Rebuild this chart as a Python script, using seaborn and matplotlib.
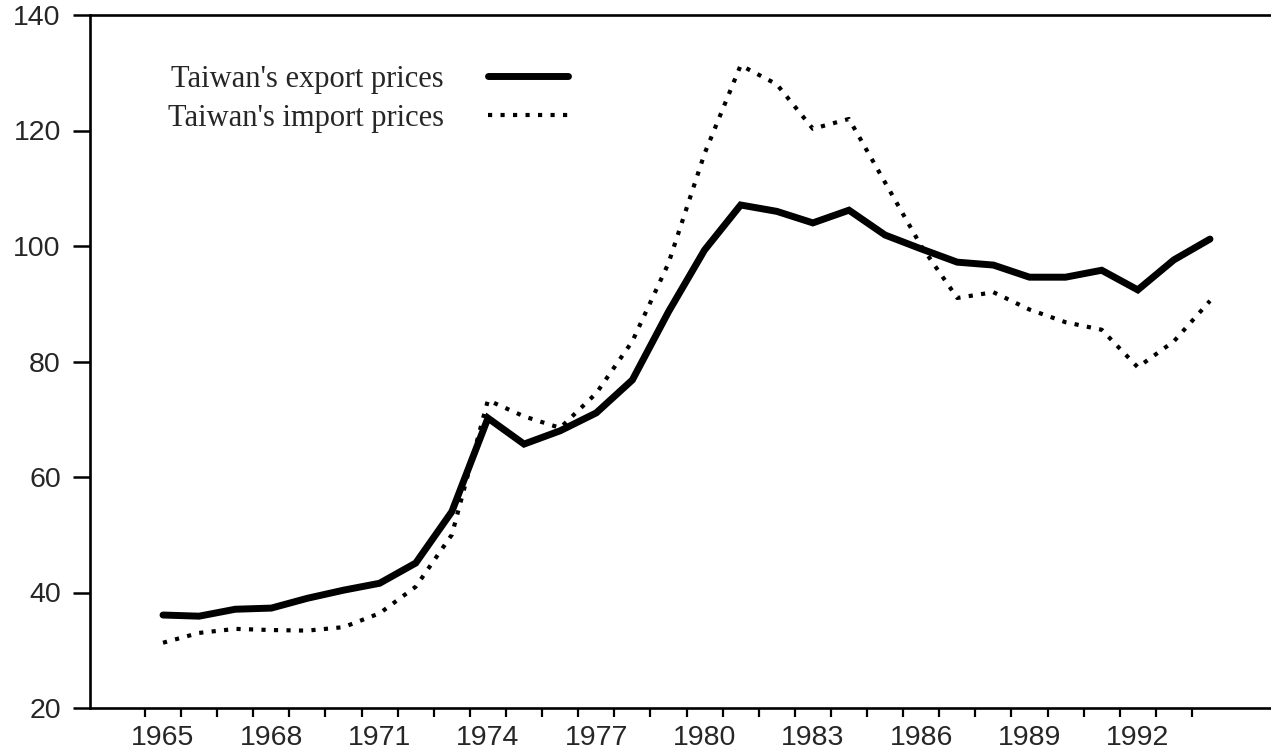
import matplotlib
matplotlib.use("Agg")
import matplotlib.pyplot as plt
import seaborn as sns
import numpy as np
import pandas as pd

years = list(range(1965, 1995))
export_prices = [36.1, 35.9, 37.1, 37.3, 39.0, 40.4, 41.6, 45.1, 54.0, 70.2,
                 65.7, 68.0, 71.1, 76.8, 88.6, 99.3, 107.1, 106.0, 104.0, 106.2,
                 101.9, 99.5, 97.2, 96.7, 94.6, 94.6, 95.8, 92.4, 97.6, 101.2]
import_prices = [31.3, 33.0, 33.7, 33.5, 33.4, 34.0, 36.4, 41.0, 50.0, 73.3,
                 70.5, 68.5, 74.5, 83.5, 97.0, 116.0, 131.3, 128.0, 120.3, 122.0,
                 111.0, 100.0, 91.0, 92.0, 89.0, 86.8, 85.5, 79.0, 83.5, 90.5]
tick_labels = ["1965", "1968", "1971", "1974", "1977", "1980", "1983", "1986", "1989", "1992"]
label_years = [1965, 1968, 1971, 1974, 1977, 1980, 1983, 1986, 1989, 1992]
y_ticks = [20, 40, 60, 80, 100, 120, 140]

sns.set_theme(style="ticks")
plt.rcParams["font.family"] = ["Liberation Sans", "DejaVu Sans"]

fig = plt.figure(figsize=(12.71, 7.54), dpi=100)
ax = fig.add_axes([90 / 1271, 1 - 708 / 754, 1 - 90 / 1271, (708 - 15) / 754])

df = pd.DataFrame({"year": years, "export": export_prices, "import": import_prices})

sns.lineplot(data=df, x="year", y="export", ax=ax, color="black", linewidth=5,
             label="Taiwan's export prices", solid_joinstyle="miter")
sns.lineplot(data=df, x="year", y="import", ax=ax, color="black", linewidth=3,
             linestyle=(0, (1, 2)), label="Taiwan's import prices")

px_per_year = 36.1
ax.set_xlim(1965 - (163 - 90) / px_per_year, 1994 + (1271 - 1210) / px_per_year)
ax.set_ylim(20, 140)

ax.set_xticks(label_years)
ax.set_xticklabels(tick_labels)
ax.set_xticks(np.arange(1964.5, 1994.0, 1.0), minor=True)
ax.set_yticks(y_ticks)
ax.set_yticklabels([str(v) for v in y_ticks])

ax.tick_params(axis="x", which="major", length=0, pad=12, labelsize=20.5)
ax.tick_params(axis="x", which="minor", length=6.5, width=1.6, direction="out", color="black")
ax.tick_params(axis="y", which="major", length=12, width=1.8, direction="out", pad=9,
               labelsize=20.5, color="black")

for side in ["left", "top", "bottom"]:
    ax.spines[side].set_visible(True)
    ax.spines[side].set_linewidth(1.9)
    ax.spines[side].set_color("black")
ax.spines["right"].set_visible(False)

ax.set_xlabel("")
ax.set_ylabel("")

leg = ax.legend(loc="upper left", bbox_to_anchor=(78 / 1181, 1 - 50 / 693), frameon=False,
                markerfirst=False, handlelength=2.6, handletextpad=1.45, labelspacing=0.33,
                borderaxespad=0, borderpad=0,
                prop={"family": ["Liberation Serif"], "size": 22})

fig.savefig("out.png", dpi=100, facecolor="white")
